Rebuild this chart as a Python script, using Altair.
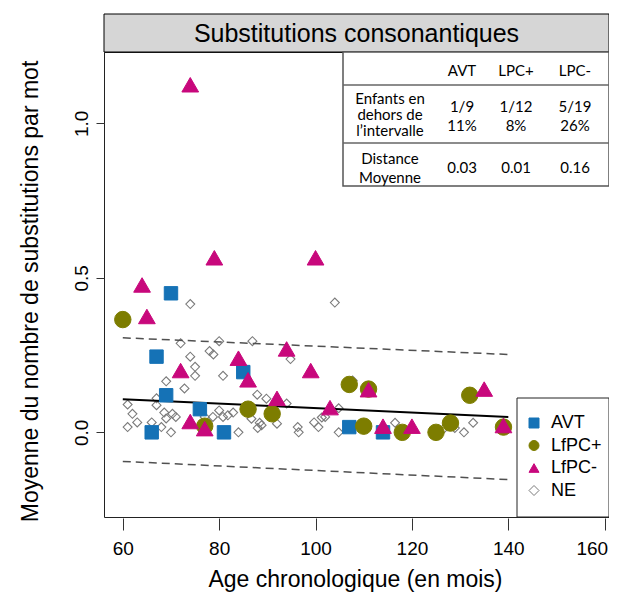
import altair as alt
import pandas as pd

# ---------------- data ----------------
groups = ["AVT", "LfPC+", "LfPC-", "NE"]

avt_age = [70, 67, 69, 66, 76, 81, 85, 107, 114]
avt_val = [0.45, 0.245, 0.12, 0.0, 0.075, 0.0, 0.195, 0.017, 0.0]

lfpc_plus_age = [60, 77, 86, 91, 107, 110, 111, 118, 125, 128, 132, 139]
lfpc_plus_val = [0.365, 0.02, 0.075, 0.06, 0.155, 0.02, 0.14, 0.0, 0.0, 0.03, 0.12, 0.017]

lfpc_minus_age = [74, 79, 100, 64, 65, 72, 74, 77, 84, 86, 94, 92, 99, 103, 111, 114, 120, 135, 139]
lfpc_minus_val = [1.125, 0.565, 0.565, 0.477, 0.375, 0.2, 0.035, 0.012, 0.24, 0.17, 0.27,
                  0.11, 0.2, 0.08, 0.138, 0.02, 0.02, 0.14, 0.022]

ne_age = [61, 62, 61, 63, 66, 67, 67, 68, 68.6, 69, 69, 70, 70.3, 71, 72, 72.8, 74, 74, 75, 75,
          78, 77, 78.8, 78.7, 80, 80, 80.8, 80.8, 81.8, 82.9, 84, 86.7, 86.9, 87.9,
          88.4, 88.8, 88, 89.8, 92, 94, 94.8, 96.3, 96.5, 99.7, 100.6, 101.3, 102, 104, 104.8,
          104.8, 107.7, 116.5, 126.6, 128.9, 130.8, 132.7]
ne_val = [0.09, 0.06, 0.017, 0.032, 0.032, 0.11, 0.088, 0.017, 0.064, 0.045, 0.165, 0.0, 0.06,
          0.05, 0.288, 0.142, 0.245, 0.415, 0.212, 0.183, 0.263, 0.05, 0.252, 0.05, 0.295,
          0.071, 0.183, 0.05, 0.055, 0.064, 0.0, 0.044, 0.295, 0.122, 0.031, 0.023, 0.014,
          0.109, 0.028, 0.093, 0.237, 0.017, 0.0, 0.032, 0.017, 0.048, 0.05, 0.42, 0.078, 0.0,
          0.168, 0.031, 0.012, 0.014, 0.0, 0.031]

fit_age = [60, 140]
fit_mean = [0.107, 0.05]
fit_upper = [0.306, 0.252]
fit_lower = [-0.094, -0.153]

panel_title = "Substitutions consonantiques"
table_cols = ["AVT", "LPC+", "LPC-"]
row_labels = ["Enfants en\ndehors de\nl\u2019intervalle", "Distance\nMoyenne"]
outside_ratio = ["1/9", "1/12", "5/19"]
outside_pct = ["11%", "8%", "26%"]
mean_distance = ["0.03", "0.01", "0.16"]

# ---------------- styles / layout ----------------
W, H = 505, 465
FONT = "Liberation Sans"
TFONT = "Lato"
group_fill = ["#1572b6", "#7d7d00", "#c8087c", "transparent"]
group_stroke = ["#1572b6", "#7d7d00", "#c8087c", "#7a7a7a"]
group_shape = ["square", "circle", "triangle-up", "diamond"]
group_size = {"AVT": 180, "LfPC+": 270, "LfPC-": 280}

big = pd.concat([
    pd.DataFrame({"age": avt_age, "val": avt_val, "group": "AVT"}),
    pd.DataFrame({"age": lfpc_plus_age, "val": lfpc_plus_val, "group": "LfPC+"}),
    pd.DataFrame({"age": lfpc_minus_age, "val": lfpc_minus_val, "group": "LfPC-"}),
], ignore_index=True)
big["sz"] = big["group"].map(group_size)
ne = pd.DataFrame({"age": ne_age, "val": ne_val, "group": "NE"})
fit = pd.DataFrame({"age": fit_age, "mean": fit_mean, "upper": fit_upper, "lower": fit_lower})

xs = alt.Scale(domain=[56.1, 160.9], nice=False, zero=False)
ys = alt.Scale(domain=[-0.274, 1.231], nice=False, zero=False)

X = alt.X("age:Q", scale=xs, axis=alt.Axis(
    values=[60, 80, 100, 120, 140, 160], title="Age chronologique (en mois)",
    labelFontSize=19, tickSize=12, labelPadding=9, offset=1, labelFlush=False,
    labelAlign={"condition": {"test": "datum.value == 160", "value": "right"}, "value": "center"},
    labelOffset={"condition": {"test": "datum.value == 160", "value": 3}, "value": 0},
    labelOverlap=False, titleFontSize=23, titleX=251, titleY=68, titleBaseline="alphabetic",
    titleAnchor="middle", titleAlign="center"))
Y = alt.Y("val:Q", scale=ys, axis=alt.Axis(
    values=[0, 0.5, 1.0], format=".1f", title="Moyenne du nombre de substitutions par mot",
    labelAngle=270, labelAlign="center", labelBaseline="bottom", labelFontSize=19,
    tickSize=8, labelPadding=5, labelOverlap=False, labelFlush=False,
    titleFontSize=23, titleAngle=270, titleX=-74, titleY=239, titleAlign="center",
    titleBaseline="middle"))

fill = alt.Fill("group:N", scale=alt.Scale(domain=groups, range=group_fill), legend=alt.Legend(title=None))
stroke = alt.Stroke("group:N", scale=alt.Scale(domain=groups, range=group_stroke), legend=alt.Legend(title=None))
shape = alt.Shape("group:N", scale=alt.Scale(domain=groups, range=group_shape), legend=alt.Legend(title=None))

ne_layer = alt.Chart(ne).mark_point(size=80, opacity=1, strokeWidth=1.1).encode(
    x=X, y=Y, fill=fill, stroke=stroke, shape=shape)

big_layer = alt.Chart(big).mark_point(opacity=1, strokeWidth=1).encode(
    x=X, y=Y, fill=fill, stroke=stroke, shape=shape,
    size=alt.Size("sz:Q", scale=None, legend=None))

fit_solid = alt.Chart(fit).mark_line(color="black", strokeWidth=2).encode(
    x=X, y=alt.Y("mean:Q", scale=ys))
fit_up = alt.Chart(fit).mark_line(color="#505050", strokeWidth=1.5, strokeDash=[8, 5]).encode(
    x=X, y=alt.Y("upper:Q", scale=ys))
fit_lo = alt.Chart(fit).mark_line(color="#505050", strokeWidth=1.5, strokeDash=[8, 5]).encode(
    x=X, y=alt.Y("lower:Q", scale=ys))

one = pd.DataFrame({"t": [panel_title]})
strip = alt.Chart(one).mark_rect(fill="#d6d6d6", stroke="black", strokeWidth=1).encode(
    x=alt.value(0), x2=alt.value(W), y=alt.value(-38), y2=alt.value(0))
strip_text = alt.Chart(one).mark_text(font=FONT, fontSize=25, color="black", baseline="middle").encode(
    x=alt.value(W / 2), y=alt.value(-18), text="t:N")

# table inset
TL, TB = 239, 134
table_box = alt.Chart(one).mark_rect(fill="white", stroke="#555555", strokeWidth=1.5).encode(
    x=alt.value(TL), x2=alt.value(W), y=alt.value(0), y2=alt.value(TB))
table_sep1 = alt.Chart(one).mark_rule(color="#666666", strokeWidth=1.5).encode(
    x=alt.value(TL), x2=alt.value(W), y=alt.value(33))
table_sep2 = alt.Chart(one).mark_rule(color="#666666", strokeWidth=1.5).encode(
    x=alt.value(TL), x2=alt.value(W), y=alt.value(91))

col_px = [358, 412, 471]
label_px = 286
single, tight, loose = [], [], []
for i, c in enumerate(table_cols):
    single.append({"px": col_px[i], "py": 19, "t": c})
    loose.append({"px": col_px[i], "py": 55, "t": outside_ratio[i] + "\n" + outside_pct[i]})
    single.append({"px": col_px[i], "py": 116, "t": mean_distance[i]})
tight.append({"px": label_px, "py": 47, "t": row_labels[0]})
loose.append({"px": label_px, "py": 107, "t": row_labels[1]})


def table_text(rows, lh):
    return alt.Chart(pd.DataFrame(rows)).mark_text(
        font=TFONT, fontSize=15, color="black", baseline="middle", align="center",
        lineBreak="\n", lineHeight=lh).encode(
        x=alt.X("px:Q", scale=None, axis=None), y=alt.Y("py:Q", scale=None, axis=None), text="t:N")


# legend frame
legend_box = alt.Chart(one).mark_rect(fill="white", stroke="#222222", strokeWidth=1).encode(
    x=alt.value(413), x2=alt.value(W), y=alt.value(346), y2=alt.value(H))

chart = alt.layer(
    legend_box, ne_layer, fit_solid, fit_up, fit_lo, big_layer,
    strip, strip_text, table_box, table_sep1, table_sep2,
    table_text(single, 16), table_text(tight, 16), table_text(loose, 19)
).properties(
    width=W, height=H,
    padding={"left": 96, "top": 44, "right": 0, "bottom": 75},
    autosize=alt.AutoSizeParams(type="none"),
).configure_view(
    stroke="#222222", strokeWidth=1
).configure_axis(
    labelFont=FONT, titleFont=FONT, labelColor="black", titleColor="black",
    tickColor="#333333", domain=False, grid=False, titleFontWeight="normal"
).configure_legend(
    orient="none", legendX=421, legendY=362, padding=0, symbolSize=100,
    labelFont=FONT, labelFontSize=18, labelColor="black", rowPadding=4.5,
    labelOffset=8, symbolStrokeWidth=1
)

chart.save("out.html", embed_options={"renderer": "svg", "actions": False})
